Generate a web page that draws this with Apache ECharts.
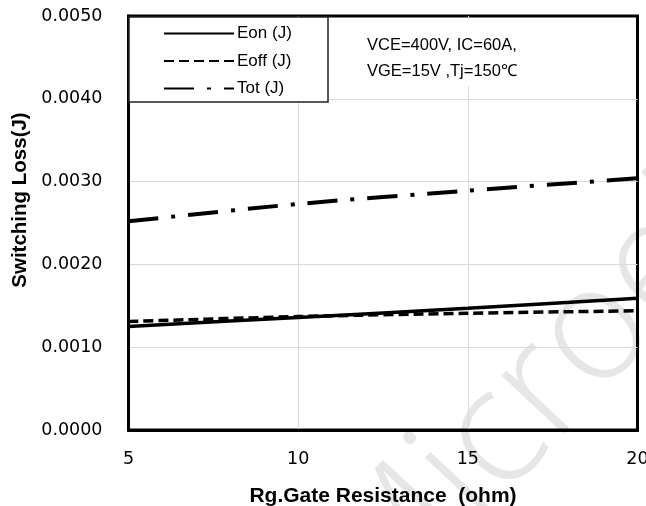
<!DOCTYPE html>
<html>
<head>
<meta charset="utf-8">
<script src="https://cdn.jsdelivr.net/npm/echarts@6/dist/echarts.min.js"></script>
<style>
  html, body { margin: 0; padding: 0; background: #fff; }
  #chart { width: 646px; height: 506px; }
</style>
</head>
<body>
<div id="chart"></div>
<script>
// Gate resistance (ohm)
const rg = [5, 10, 15, 20];
// Switching energies (J)
const eon = [0.00125, 0.00136, 0.00147, 0.00159];
const eoff = [0.00131, 0.00137, 0.00141, 0.00144];
const tot = [0.00252, 0.00273, 0.00289, 0.00304];
// Axis ticks
const xTicks = [5, 10, 15, 20];
const yTicks = [0, 0.001, 0.002, 0.003, 0.004, 0.005];

const pairs = (ys) => rg.map((x, i) => [x, ys[i]]);

const chart = echarts.init(document.getElementById('chart'), null, { renderer: 'canvas' });

const tickFont = 'DejaVu Sans';
const textFont = 'Liberation Sans';

chart.setOption({
  animation: false,
  backgroundColor: '#fff',
  grid: {
    left: 128.5, right: 8.5, top: 16, bottom: 76,
    outerBoundsMode: 'none', containLabel: false,
    show: true, borderColor: '#000', borderWidth: 3, backgroundColor: 'transparent'
  },
  xAxis: {
    type: 'value',
    min: xTicks[0], max: xTicks[xTicks.length - 1], interval: 5,
    name: 'Rg.Gate Resistance  (ohm)',
    nameLocation: 'middle', nameGap: 56,
    nameTextStyle: { fontFamily: textFont, fontWeight: 'bold', fontSize: 21, color: '#000' },
    axisLine: { show: true, lineStyle: { color: '#000', width: 3 } },
    axisTick: { show: false },
    axisLabel: { margin: 20, fontFamily: tickFont, fontSize: 17.5, color: '#000' },
    splitLine: { show: true, showMinLine: false, showMaxLine: false, lineStyle: { color: '#d9d9d9', width: 1 } }
  },
  yAxis: {
    type: 'value',
    min: yTicks[0], max: yTicks[yTicks.length - 1], interval: 0.001,
    name: 'Switching Loss(J)',
    nameLocation: 'middle', nameGap: 98,
    nameTextStyle: { fontFamily: textFont, fontWeight: 'bold', fontSize: 20.5, color: '#000', padding: [0, 0, 0, 46] },
    axisLine: { show: true, lineStyle: { color: '#000', width: 3 } },
    axisTick: { show: false },
    axisLabel: { margin: 26, fontFamily: tickFont, fontSize: 17.5, color: '#000',
      formatter: (v) => v.toFixed(4) },
    splitLine: { show: true, showMinLine: false, showMaxLine: false, lineStyle: { color: '#d9d9d9', width: 1 } }
  },
  legend: {
    orient: 'vertical',
    left: 163, top: 25,
    padding: 0,
    itemWidth: 70, itemHeight: 17, itemGap: 10.5,
    itemStyle: { opacity: 0 },
    textStyle: { fontFamily: textFont, fontSize: 17, color: '#000', lineHeight: 17, padding: [0, 0, 0, -2] },
    data: ['Eon (J)', 'Eoff (J)', 'Tot (J)'],
    z: 5
  },
  graphic: [
    {
      // faint diagonal watermark
      type: 'text', z: -10, silent: true,
      x: 350, y: 596, rotation: 0.82,
      style: {
        text: 'Microelectronics', x: 0, y: 0,
        font: '300 160px "Open Sans"',
        fill: '#e6e6e6',
        textVerticalAlign: 'middle'
      }
    },
    {
      // legend frame
      type: 'rect', z: 3, silent: true,
      shape: { x: 129, y: 17, width: 199, height: 85 },
      style: { fill: '#fff', stroke: '#222', lineWidth: 1.5 }
    },
    {
      // test conditions
      type: 'text', z: 3, silent: true,
      x: 353, y: 19,
      style: {
        text: 'VCE=400V, IC=60A,\nVGE=15V ,Tj=150\u2103',
        font: '16.5px "Liberation Sans"',
        fill: '#000',
        lineHeight: 26,
        backgroundColor: '#fff',
        padding: [13, 20, 2, 14]
      }
    }
  ],
  series: [
    {
      name: 'Eon (J)', type: 'line', data: pairs(eon), symbol: 'none', smooth: 0.3,
      lineStyle: { color: '#000', width: 3.5 }, itemStyle: { color: '#000' }, z: 3
    },
    {
      name: 'Eoff (J)', type: 'line', data: pairs(eoff), symbol: 'none', smooth: 0.3,
      lineStyle: { color: '#000', width: 3.5, type: [10, 5], cap: 'butt' }, itemStyle: { color: '#000' }, z: 3
    },
    {
      name: 'Tot (J)', type: 'line', data: pairs(tot), symbol: 'none', smooth: 0.3,
      lineStyle: { color: '#000', width: 4, type: [30, 13, 4, 13], cap: 'butt' }, itemStyle: { color: '#000' }, z: 3
    }
  ]
});
</script>
</body>
</html>
